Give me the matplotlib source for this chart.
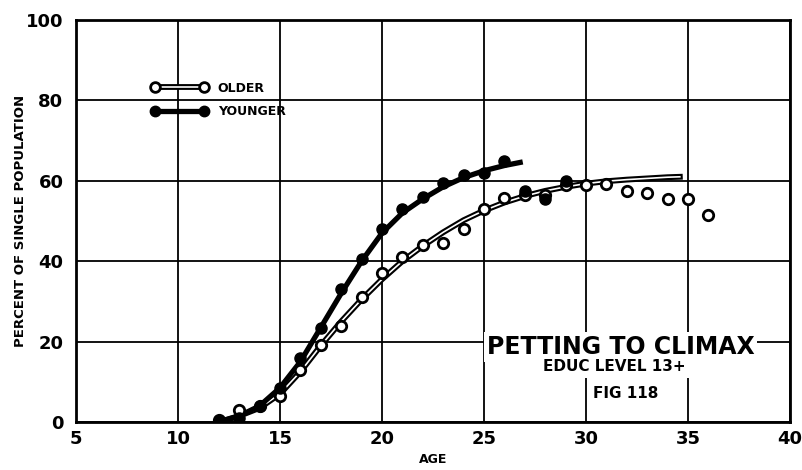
import matplotlib.pyplot as plt
import matplotlib.patheffects as pe
from matplotlib.lines import Line2D
from matplotlib.legend_handler import HandlerTuple

# points
ages_older = [12, 13, 14, 15, 16, 17, 18, 19, 20, 21, 22, 23, 24, 25, 26, 27, 28,
              29, 30, 31, 32, 33, 34, 35, 36]
older = [0.5, 3, 4, 6.5, 13, 19.2, 24, 31, 37, 41, 44, 44.5, 48, 53, 55.7, 56.5,
         56.5, 59, 59, 59.3, 57.5, 57, 55.5, 55.5, 51.5]

ages_younger = [12, 13, 14, 15, 16, 17, 18, 19, 20, 21, 22, 23, 24, 25, 26, 27, 28, 29]
younger = [0.3, 1, 4, 8.5, 16, 23.5, 33, 40.5, 48, 53, 56, 59.5, 61.5, 62, 65,
           57.5, 55.5, 60]

# fitted curves as drawn
curve_old_x = [12, 13, 14, 15, 16, 17, 18, 19, 20, 21, 22, 23, 24, 25, 26, 27, 28,
               29, 30, 31, 32, 33, 34, 34.6]
curve_old_y = [0, 1.5, 3.5, 7, 12.5, 19, 25, 30.5, 35.5, 40, 43.8, 47.2, 50.2, 52.6,
               54.6, 56.2, 57.5, 58.5, 59.3, 59.9, 60.3, 60.6, 60.9, 61]
curve_young_x = [12, 13, 14, 15, 16, 17, 18, 19, 20, 21, 22, 23, 24, 25, 26, 26.9]
curve_young_y = [0, 1.5, 4, 8.5, 15, 23.5, 32, 40, 47, 52, 55.5, 58.5, 60.8, 62.5,
                 63.8, 64.7]

xticks = [5, 10, 15, 20, 25, 30, 35, 40]
yticks = [0, 20, 40, 60, 80, 100]

plt.rcParams['font.family'] = 'DejaVu Sans'
plt.rcParams['font.weight'] = 'bold'

fig = plt.figure(figsize=(8.03, 4.70), dpi=100)
ax = fig.add_axes([0.0946, 0.1021, 0.8892, 0.8553])

ax.set_xlim(5, 40)
ax.set_ylim(0, 100)
ax.set_xticks(xticks)
ax.set_yticks(yticks)
ax.tick_params(length=0, labelsize=13)
ax.tick_params(axis='x', pad=6)
ax.tick_params(axis='y', pad=9)
for lab in ax.get_xticklabels() + ax.get_yticklabels():
    lab.set_fontweight('bold')
ax.grid(True, color='black', linewidth=1.3)
ax.set_axisbelow(True)
for s in ax.spines.values():
    s.set_linewidth(2)

ax.set_xlabel('AGE', fontsize=9, fontweight='bold', labelpad=3)
ax.set_ylabel('PERCENT OF SINGLE POPULATION', fontsize=9.5, fontweight='bold')
ax.yaxis.set_label_coords(-0.068, 0.5)

# curves
old_fx = [pe.Stroke(linewidth=4.2, foreground='black'), pe.Normal()]
ax.plot(curve_old_x, curve_old_y, color='white', linewidth=1.2,
        path_effects=old_fx, zorder=3)
ax.plot(curve_young_x, curve_young_y, color='black', linewidth=3.8,
        solid_capstyle='butt', zorder=3)

# points
ax.plot(ages_older, older, 'o', ms=7.5, mfc='white', mec='black', mew=2, zorder=4)
ax.plot(ages_younger, younger, 'o', ms=8, mfc='black', mec='black', zorder=5)

# legend
h_old = (Line2D([], [], color='white', linewidth=1.2, path_effects=old_fx),
         Line2D([], [], ls='none', marker='o', ms=7, mfc='white', mec='black', mew=2))
h_young = (Line2D([], [], color='black', linewidth=3.8),
           Line2D([], [], ls='none', marker='o', ms=7.5, mfc='black', mec='black'))
ax.legend([h_old, h_young], ['OLDER', 'YOUNGER'], numpoints=2,
          handler_map={tuple: HandlerTuple(ndivide=1, pad=0)},
          loc='upper left', bbox_to_anchor=(0.097, 0.862), frameon=False,
          prop={'weight': 'bold', 'size': 9}, handlelength=4.5,
          handletextpad=0.8, labelspacing=0.85, borderpad=0)

# title block
ax.text(31.7, 18.7, 'PETTING TO CLIMAX', fontsize=17, fontweight='bold',
        ha='center', va='center', zorder=6,
        bbox=dict(facecolor='white', edgecolor='none', pad=2))
ax.text(31.4, 13.9, 'EDUC LEVEL 13+', fontsize=11, fontweight='bold',
        ha='center', va='center', zorder=6,
        bbox=dict(facecolor='white', edgecolor='none', pad=3))
ax.text(31.95, 7.2, 'FIG 118', fontsize=11, fontweight='bold',
        ha='center', va='center', zorder=6)

fig.savefig('out.png', dpi=100)
